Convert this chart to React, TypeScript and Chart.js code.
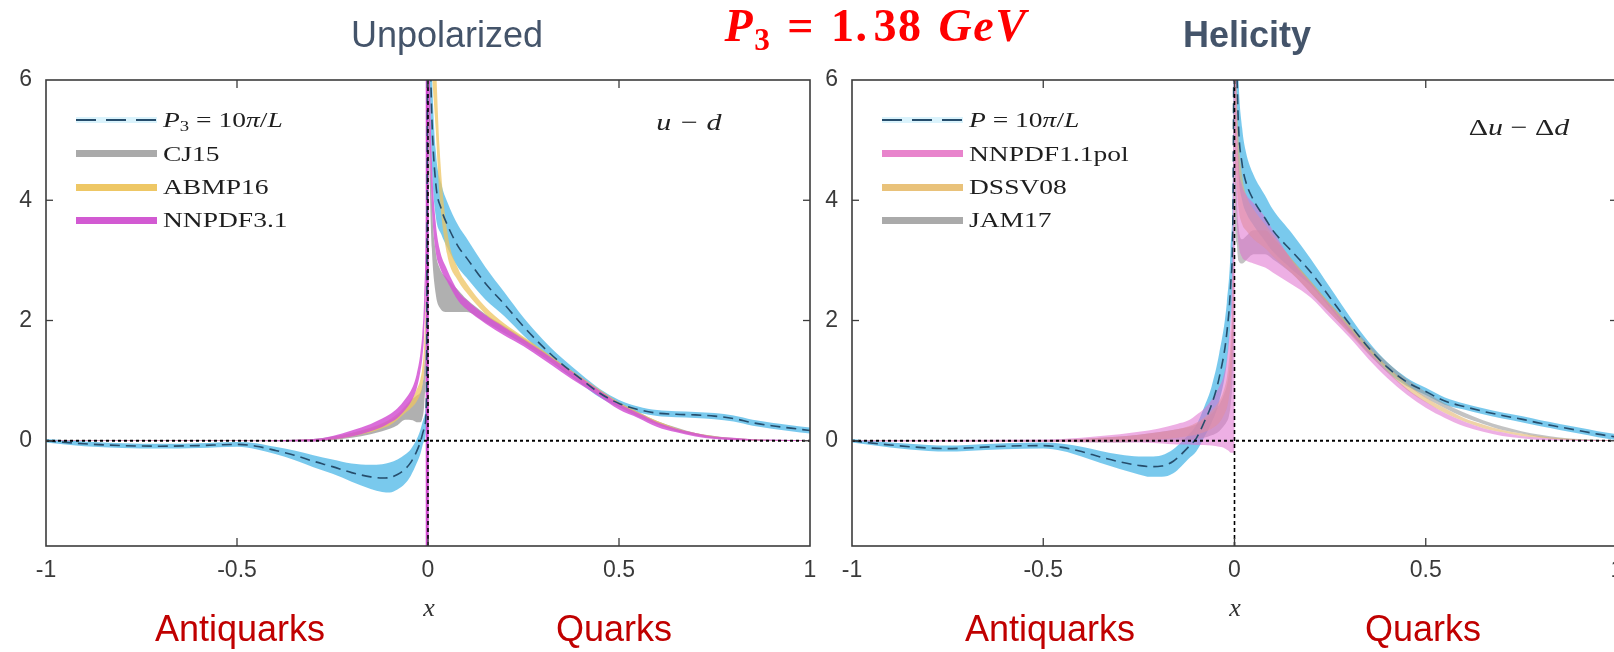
import React, { useEffect, useRef } from "react";
import { Chart, registerables } from "chart.js";

Chart.register(...registerables);

// ---------- shared axes ----------
const xTickValues = [-1, -0.5, 0, 0.5, 1];
const yTickValues = [0, 2, 4, 6];
const xMin = -1;
const xMax = 1;
const yMin = -1.75;
const yMax = 6;

// ---------- left panel: unpolarized u - d ----------
const latUnpolX = [-1, -0.9, -0.8, -0.7, -0.6, -0.5, -0.45, -0.4, -0.35, -0.3, -0.25, -0.2, -0.15, -0.12, -0.1, -0.08, -0.06, -0.045, -0.03, -0.02, -0.01, -0.004, 0, 0.004, 0.01, 0.02, 0.035, 0.05, 0.08, 0.1, 0.15, 0.2, 0.25, 0.3, 0.35, 0.4, 0.45, 0.5, 0.55, 0.6, 0.65, 0.7, 0.75, 0.8, 0.85, 0.9, 0.95, 1];
const latUnpolMid = [0, -0.05, -0.08, -0.09, -0.08, -0.06, -0.09, -0.16, -0.24, -0.34, -0.43, -0.53, -0.6, -0.62, -0.61, -0.56, -0.47, -0.36, -0.18, -0.02, 0.2, 0.7, 8, 7, 5.4, 4.3, 3.85, 3.6, 3.22, 3.05, 2.62, 2.27, 1.9, 1.57, 1.28, 1.03, 0.79, 0.62, 0.52, 0.46, 0.44, 0.43, 0.41, 0.37, 0.3, 0.25, 0.21, 0.17];
const latUnpolErr = [0.03, 0.04, 0.04, 0.04, 0.04, 0.04, 0.05, 0.06, 0.08, 0.1, 0.12, 0.15, 0.2, 0.23, 0.25, 0.25, 0.24, 0.22, 0.2, 0.2, 0.2, 0.3, 1, 1, 0.8, 0.55, 0.42, 0.38, 0.35, 0.33, 0.27, 0.2, 0.15, 0.12, 0.1, 0.08, 0.07, 0.06, 0.05, 0.05, 0.05, 0.05, 0.05, 0.05, 0.05, 0.05, 0.05, 0.05];

const phenoX = [-1, -0.5, -0.3, -0.25, -0.2, -0.15, -0.12, -0.1, -0.08, -0.06, -0.04, -0.03, -0.02, -0.015, -0.01, -0.005, -0.002, 0, 0.002, 0.005, 0.01, 0.02, 0.03, 0.05, 0.08, 0.1, 0.15, 0.2, 0.25, 0.3, 0.35, 0.4, 0.45, 0.5, 0.55, 0.6, 0.65, 0.7, 0.75, 0.8, 0.85, 0.9, 1];

const cj15Mid = [0, 0, 0.01, 0.04, 0.09, 0.16, 0.22, 0.27, 0.34, 0.45, 0.52, 0.53, 0.56, 0.65, 0.9, 1.8, 4, 9, 6.5, 4.8, 3.6, 2.8, 2.55, 2.42, 2.32, 2.25, 2.04, 1.85, 1.66, 1.45, 1.23, 1.01, 0.8, 0.6, 0.44, 0.3, 0.19, 0.11, 0.06, 0.03, 0.015, 0.008, 0];
const cj15Err = [0.005, 0.005, 0.02, 0.03, 0.04, 0.05, 0.06, 0.07, 0.08, 0.1, 0.18, 0.22, 0.25, 0.28, 0.3, 0.4, 0.8, 1, 1, 0.6, 0.4, 0.35, 0.33, 0.28, 0.18, 0.11, 0.07, 0.06, 0.05, 0.05, 0.05, 0.05, 0.04, 0.04, 0.04, 0.03, 0.03, 0.02, 0.02, 0.015, 0.01, 0.005, 0.005];

const abmp16Mid = [0, 0, 0.01, 0.04, 0.1, 0.18, 0.25, 0.31, 0.4, 0.52, 0.65, 0.75, 0.9, 1.05, 1.4, 2.5, 5, 9, 8.5, 8, 7, 5.8, 4.5, 3.3, 2.75, 2.55, 2.17, 1.9, 1.68, 1.46, 1.24, 1.02, 0.81, 0.61, 0.45, 0.3, 0.19, 0.11, 0.06, 0.03, 0.015, 0.008, 0];
const abmp16Err = [0.003, 0.003, 0.01, 0.02, 0.03, 0.04, 0.04, 0.05, 0.05, 0.06, 0.08, 0.1, 0.12, 0.15, 0.2, 0.3, 0.5, 1, 1, 1, 0.8, 0.6, 0.4, 0.2, 0.1, 0.08, 0.06, 0.05, 0.05, 0.05, 0.04, 0.04, 0.04, 0.03, 0.03, 0.03, 0.02, 0.02, 0.015, 0.01, 0.01, 0.005, 0.003];

const nnpdf31Mid = [0, 0, 0.01, 0.05, 0.12, 0.22, 0.3, 0.37, 0.46, 0.6, 0.8, 0.98, 1.3, 1.57, 2.1, 3.5, 6.5, 9, 7, 5.5, 4.3, 3.4, 3.05, 2.75, 2.4, 2.27, 2.02, 1.82, 1.63, 1.42, 1.2, 0.99, 0.78, 0.57, 0.42, 0.27, 0.17, 0.1, 0.05, 0.03, 0.015, 0.01, 0];
const nnpdf31Err = [0.005, 0.005, 0.02, 0.03, 0.05, 0.06, 0.07, 0.07, 0.08, 0.09, 0.1, 0.12, 0.15, 0.2, 0.3, 0.5, 1, 1, 1, 0.6, 0.4, 0.25, 0.15, 0.1, 0.08, 0.08, 0.07, 0.07, 0.06, 0.06, 0.06, 0.06, 0.05, 0.05, 0.04, 0.04, 0.03, 0.03, 0.02, 0.02, 0.01, 0.01, 0.005];

// ---------- right panel: helicity Δu - Δd ----------
const latHelX = [-1, -0.9, -0.8, -0.75, -0.7, -0.6, -0.5, -0.45, -0.4, -0.35, -0.3, -0.25, -0.22, -0.19, -0.16, -0.14, -0.12, -0.1, -0.08, -0.06, -0.04, -0.02, -0.01, -0.004, 0, 0.005, 0.01, 0.02, 0.03, 0.05, 0.08, 0.1, 0.15, 0.2, 0.25, 0.3, 0.35, 0.4, 0.45, 0.5, 0.55, 0.6, 0.65, 0.7, 0.75, 0.8, 0.85, 0.9, 0.95, 1];
const latHelMid = [0, -0.07, -0.12, -0.13, -0.12, -0.09, -0.08, -0.11, -0.18, -0.27, -0.35, -0.41, -0.43, -0.42, -0.34, -0.23, -0.1, 0.04, 0.3, 0.6, 1.05, 1.8, 2.6, 3.8, 8, 6.5, 5.3, 4.6, 4.3, 4.0, 3.7, 3.5, 3.15, 2.8, 2.38, 1.95, 1.55, 1.22, 0.98, 0.82, 0.66, 0.57, 0.49, 0.42, 0.36, 0.29, 0.23, 0.17, 0.11, 0.06];
const latHelErr = [0.03, 0.04, 0.05, 0.05, 0.05, 0.05, 0.05, 0.06, 0.08, 0.1, 0.12, 0.15, 0.17, 0.18, 0.2, 0.2, 0.2, 0.22, 0.25, 0.3, 0.4, 0.5, 0.6, 0.8, 1, 1, 0.8, 0.6, 0.5, 0.42, 0.38, 0.35, 0.3, 0.22, 0.17, 0.13, 0.1, 0.08, 0.07, 0.06, 0.06, 0.05, 0.05, 0.05, 0.05, 0.05, 0.05, 0.05, 0.05, 0.05];

const nnpdf11Mid = [0, 0, 0.04, 0.06, 0.08, 0.11, 0.14, 0.18, 0.23, 0.3, 0.4, 0.47, 0.6, 0.75, 0.9, 1.6, 3, 3.5, 6, 4.8, 4.0, 3.65, 3.55, 3.45, 3.3, 3.15, 2.8, 2.5, 2.15, 1.8, 1.43, 1.1, 0.82, 0.6, 0.42, 0.28, 0.18, 0.11, 0.06, 0.03, 0.015, 0.008, 0];
const nnpdf11Err = [0.01, 0.02, 0.07, 0.09, 0.12, 0.17, 0.2, 0.25, 0.3, 0.38, 0.5, 0.58, 0.75, 0.92, 1.1, 1.8, 3.2, 3.7, 1.5, 1, 0.7, 0.6, 0.55, 0.5, 0.42, 0.35, 0.2, 0.12, 0.1, 0.08, 0.07, 0.06, 0.05, 0.05, 0.04, 0.04, 0.03, 0.03, 0.02, 0.02, 0.01, 0.01, 0.005];

const dssv08Mid = [0, 0, 0.03, 0.05, 0.08, 0.12, 0.16, 0.2, 0.26, 0.35, 0.48, 0.6, 0.8, 1.0, 1.3, 2.0, 3.5, 8, 6, 5.2, 4.5, 4.0, 3.8, 3.6, 3.4, 3.25, 2.9, 2.55, 2.2, 1.85, 1.5, 1.18, 0.9, 0.68, 0.5, 0.35, 0.24, 0.16, 0.1, 0.06, 0.03, 0.015, 0];
const dssv08Err = [0.005, 0.01, 0.04, 0.05, 0.06, 0.07, 0.08, 0.1, 0.12, 0.15, 0.18, 0.2, 0.25, 0.3, 0.35, 0.5, 0.8, 1, 1, 0.8, 0.6, 0.4, 0.3, 0.25, 0.2, 0.18, 0.12, 0.1, 0.08, 0.07, 0.06, 0.05, 0.05, 0.04, 0.04, 0.03, 0.03, 0.02, 0.02, 0.015, 0.01, 0.008, 0.005];

const jam17Mid = [0, 0, 0.02, 0.04, 0.06, 0.09, 0.12, 0.15, 0.2, 0.27, 0.38, 0.48, 0.62, 0.75, 1.0, 1.6, 3, 8, 4.5, 3.8, 3.3, 3.15, 3.2, 3.3, 3.3, 3.2, 2.9, 2.55, 2.2, 1.87, 1.55, 1.25, 0.98, 0.76, 0.58, 0.43, 0.31, 0.21, 0.14, 0.08, 0.04, 0.02, 0];
const jam17Err = [0.005, 0.01, 0.05, 0.06, 0.08, 0.1, 0.11, 0.12, 0.15, 0.18, 0.22, 0.25, 0.3, 0.35, 0.4, 0.6, 1, 1, 1, 0.5, 0.3, 0.2, 0.2, 0.2, 0.2, 0.18, 0.12, 0.1, 0.08, 0.07, 0.06, 0.05, 0.05, 0.05, 0.04, 0.04, 0.03, 0.03, 0.02, 0.02, 0.015, 0.01, 0.005];

// ---------- colours ----------
const C_LAT_BAND = "rgba(98,192,234,0.85)";
const C_LAT_LINE = "#264d6c";
const C_CJ15 = "rgba(150,150,150,0.75)";
const C_ABMP = "rgba(238,196,96,0.75)";
const C_NNPDF31 = "rgba(212,84,212,0.85)";
const C_NNPDF11 = "rgba(222,110,205,0.55)";
const C_DSSV = "rgba(228,182,108,0.6)";
const C_JAM = "rgba(155,155,155,0.6)";

const TICK_FONT = "'Liberation Sans', Arial, sans-serif";
const SERIF = "'Liberation Serif', 'Times New Roman', serif";

function band(xs: number[], mid: number[], err: number[], color: string) {
  const upper = xs.map((x, i) => ({ x, y: mid[i] + err[i] }));
  const lower = xs.map((x, i) => ({ x, y: mid[i] - err[i] }));
  return [
    { data: upper, borderWidth: 0, pointRadius: 0, fill: false, cubicInterpolationMode: "monotone" },
    { data: lower, borderWidth: 0, pointRadius: 0, fill: "-1", backgroundColor: color, cubicInterpolationMode: "monotone" },
  ];
}

function curve(xs: number[], ys: number[], color: string, width: number, dash: number[]) {
  return {
    data: xs.map((x, i) => ({ x, y: ys[i] })),
    borderColor: color,
    borderWidth: width,
    borderDash: dash,
    pointRadius: 0,
    fill: false,
    cubicInterpolationMode: "monotone",
  };
}

const framePlugin = {
  id: "frameTicks",
  afterDatasetsDraw(chart: any) {
    const { ctx, chartArea: a, scales } = chart;
    ctx.save();
    ctx.strokeStyle = "#3c3c3c";
    ctx.lineWidth = 1.6;
    ctx.strokeRect(a.left, a.top, a.right - a.left, a.bottom - a.top);
    ctx.lineWidth = 1.3;
    const seg = (x1: number, y1: number, x2: number, y2: number) => {
      ctx.beginPath();
      ctx.moveTo(x1, y1);
      ctx.lineTo(x2, y2);
      ctx.stroke();
    };
    for (const t of scales.x.ticks) {
      const px = scales.x.getPixelForValue(t.value);
      if (px <= a.left + 2 || px >= a.right - 2) continue;
      seg(px, a.bottom, px, a.bottom - 8);
      seg(px, a.top, px, a.top + 8);
    }
    for (const t of scales.y.ticks) {
      const py = scales.y.getPixelForValue(t.value);
      if (py <= a.top + 2 || py >= a.bottom - 2) continue;
      seg(a.left, py, a.left + 7, py);
      seg(a.right, py, a.right - 7, py);
    }
    ctx.restore();
  },
};

function buildChart(canvas: HTMLCanvasElement, layers: any[], padRight: number) {
  const datasets = layers.map((d, i) => ({ ...d, order: layers.length - i }));
  return new Chart(canvas, {
    type: "line",
    data: { datasets },
    options: {
      animation: false,
      responsive: false,
      devicePixelRatio: 1,
      events: [],
      layout: { padding: { top: 80, right: padRight, left: 0, bottom: 0 } },
      plugins: { legend: { display: false }, tooltip: { enabled: false } },
      scales: {
        x: {
          type: "linear",
          min: xMin,
          max: xMax,
          grid: { display: false, drawTicks: false },
          border: { display: false },
          afterBuildTicks: (s: any) => {
            s.ticks = xTickValues.map((v) => ({ value: v }));
          },
          afterFit: (s: any) => {
            s.height = 54;
          },
          ticks: {
            font: { family: TICK_FONT, size: 23 },
            color: "#3a3a3a",
            padding: 11,
            maxRotation: 0,
            autoSkip: false,
            callback: (v: any) => String(v),
          },
        },
        y: {
          type: "linear",
          min: yMin,
          max: yMax,
          grid: { display: false, drawTicks: false },
          border: { display: false },
          afterBuildTicks: (s: any) => {
            s.ticks = yTickValues.map((v) => ({ value: v }));
          },
          afterFit: (s: any) => {
            s.width = 46;
          },
          ticks: {
            font: { family: TICK_FONT, size: 23 },
            color: "#3a3a3a",
            padding: 14,
            callback: (v: any) => String(v),
          },
        },
      },
    } as any,
    plugins: [framePlugin],
  });
}

function zeroLines() {
  return [
    curve([xMin, xMax], [0, 0], "#000", 1.8, [3, 3]),
    { ...curve([0, 0], [yMin, yMax], "#000", 1.6, [4, 3]), cubicInterpolationMode: "default" },
  ];
}

function LeftChart() {
  const ref = useRef<HTMLCanvasElement>(null);
  useEffect(() => {
    const layers = [
      ...band(latUnpolX, latUnpolMid, latUnpolErr, C_LAT_BAND),
      ...band(phenoX, cj15Mid, cj15Err, C_CJ15),
      ...band(phenoX, abmp16Mid, abmp16Err, C_ABMP),
      ...band(phenoX, nnpdf31Mid, nnpdf31Err, C_NNPDF31),
      { ...curve([-0.002, -0.002], [yMin, yMax], "rgba(205,70,205,0.95)", 3, []), cubicInterpolationMode: "default" },
      curve(latUnpolX, latUnpolMid, C_LAT_LINE, 1.6, [10, 6]),
      ...zeroLines(),
    ];
    const chart = buildChart(ref.current!, layers, 20);
    return () => chart.destroy();
  }, []);
  return (
    <canvas
      ref={ref}
      width={830}
      height={600}
      style={{ position: "absolute", left: 0, top: 0, width: 830, height: 600 }}
    />
  );
}

function RightChart() {
  const ref = useRef<HTMLCanvasElement>(null);
  useEffect(() => {
    const layers = [
      ...band(latHelX, latHelMid, latHelErr, C_LAT_BAND),
      ...band(phenoX, jam17Mid, jam17Err, C_JAM),
      ...band(phenoX, dssv08Mid, dssv08Err, C_DSSV),
      ...band(phenoX, nnpdf11Mid, nnpdf11Err, C_NNPDF11),
      curve(latHelX, latHelMid, C_LAT_LINE, 1.6, [10, 6]),
      ...zeroLines(),
    ];
    const chart = buildChart(ref.current!, layers, 20);
    return () => chart.destroy();
  }, []);
  return (
    <canvas
      ref={ref}
      width={831}
      height={600}
      style={{ position: "absolute", left: 806, top: 0, width: 831, height: 600 }}
    />
  );
}

const abs = (s: any): any => ({ position: "absolute", whiteSpace: "nowrap", ...s });

function LegendRow(props: { left: number; y: number; color?: string; dashed?: boolean; children: any }) {
  const { left, y, color, dashed, children } = props;
  return (
    <>
      {dashed ? (
        <>
          <div style={abs({ left, top: y - 3, width: 81, height: 6, background: "rgba(150,220,245,0.35)" })} />
          <div
            style={abs({
              left,
              top: y - 1,
              width: 81,
              height: 2,
              background: `repeating-linear-gradient(to right, ${C_LAT_LINE} 0 20px, transparent 20px 30px)`,
            })}
          />
        </>
      ) : (
        <div style={abs({ left, top: y - 3.5, width: 81, height: 7, background: color })} />
      )}
      <div
        style={abs({
          left: left + 87,
          top: y,
          fontFamily: SERIF,
          fontSize: 22,
          lineHeight: "22px",
          color: "#1e1e1e",
          transform: "translateY(-50%) scaleX(1.25)",
          transformOrigin: "left center",
        })}
      >
        {children}
      </div>
    </>
  );
}

const sub = { fontSize: "0.68em", verticalAlign: "-0.3em", lineHeight: 0 } as any;

export default function App() {
  return (
    <div
      style={{
        position: "fixed",
        left: 0,
        top: 0,
        width: 1614,
        height: 652,
        overflow: "hidden",
        background: "#ffffff",
      }}
    >
      <LeftChart />
      <RightChart />

      {/* titles */}
      <div style={abs({ left: 447, top: 16.5, transform: "translateX(-50%)", fontFamily: TICK_FONT, fontSize: 36, lineHeight: "36px", color: "#44546a" })}>
        Unpolarized
      </div>
      <div style={abs({ left: 1247, top: 16.5, transform: "translateX(-50%)", fontFamily: TICK_FONT, fontSize: 36, lineHeight: "36px", fontWeight: 700, color: "#44546a" })}>
        Helicity
      </div>
      <div
        style={abs({
          left: 876,
          top: 3,
          transform: "translateX(-50%)",
          fontFamily: SERIF,
          fontSize: 46,
          lineHeight: "46px",
          fontWeight: 700,
          letterSpacing: 1.5,
          wordSpacing: 3,
          color: "#ff0000",
        })}
      >
        <i>P</i>
        <span style={sub}>3</span> = 1.<span style={{ marginLeft: 5 }}>38</span> <i>GeV</i>
      </div>

      {/* panel labels */}
      <div style={abs({ left: 689, top: 110, fontFamily: SERIF, fontSize: 24, lineHeight: "24px", fontStyle: "italic", color: "#222", transform: "translateX(-50%) scaleX(1.25)" })}>
        u − d
      </div>
      <div style={abs({ left: 1519, top: 115, fontFamily: SERIF, fontSize: 24, lineHeight: "24px", color: "#222", transform: "translateX(-50%) scaleX(1.25)" })}>
        Δ<i>u</i> − Δ<i>d</i>
      </div>

      {/* legends */}
      <LegendRow left={76} y={120} dashed>
        <i>P</i>
        <span style={sub}>3</span> = 10<i>π</i>/<i>L</i>
      </LegendRow>
      <LegendRow left={76} y={153.5} color="#aaaaaa">CJ15</LegendRow>
      <LegendRow left={76} y={187} color="#eec765">ABMP16</LegendRow>
      <LegendRow left={76} y={220} color="#d25ad2">NNPDF3.1</LegendRow>

      <LegendRow left={882} y={120} dashed>
        <i>P</i> = 10<i>π</i>/<i>L</i>
      </LegendRow>
      <LegendRow left={882} y={153.5} color="#e884cc">NNPDF1.1pol</LegendRow>
      <LegendRow left={882} y={187} color="#e9c27a">DSSV08</LegendRow>
      <LegendRow left={882} y={220} color="#aaaaaa">JAM17</LegendRow>

      {/* x-axis titles */}
      <div style={abs({ left: 429, top: 595, transform: "translateX(-50%)", fontFamily: SERIF, fontSize: 26, lineHeight: "26px", fontStyle: "italic", color: "#333" })}>
        x
      </div>
      <div style={abs({ left: 1235, top: 595, transform: "translateX(-50%)", fontFamily: SERIF, fontSize: 26, lineHeight: "26px", fontStyle: "italic", color: "#333" })}>
        x
      </div>

      {/* region labels */}
      {[
        ["Antiquarks", 240],
        ["Quarks", 614],
        ["Antiquarks", 1050],
        ["Quarks", 1423],
      ].map(([t, cx], i) => (
        <div
          key={i}
          style={abs({ left: cx, top: 610.5, transform: "translateX(-50%)", fontFamily: TICK_FONT, fontSize: 36, lineHeight: "36px", color: "#c00000" })}
        >
          {t}
        </div>
      ))}
    </div>
  );
}
